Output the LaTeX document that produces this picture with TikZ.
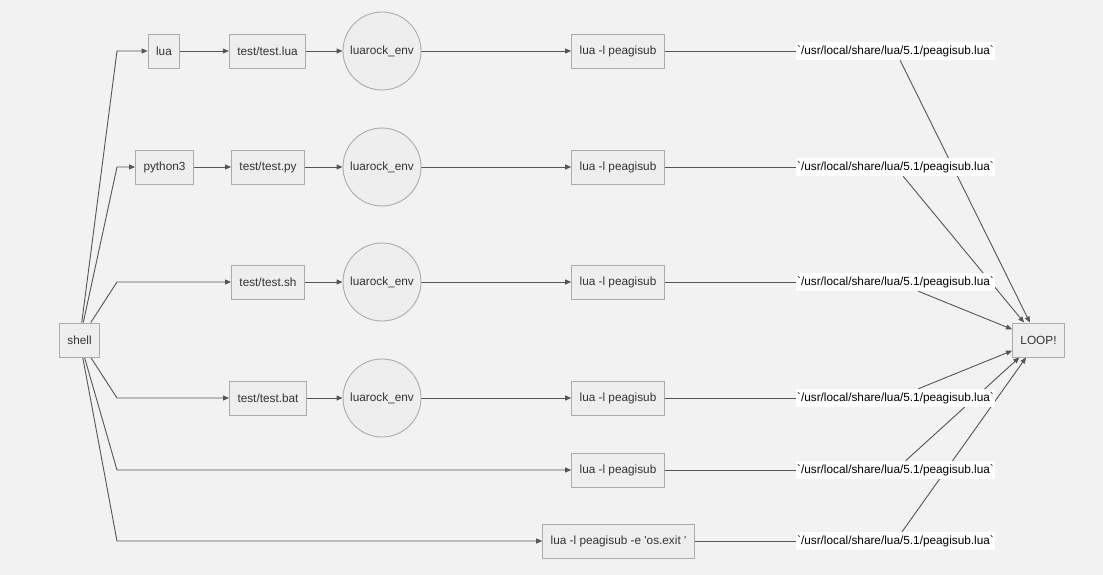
\documentclass[tikz,border=0pt]{standalone}
\usepackage{fontspec}
\setmainfont{Liberation Sans}
\usetikzlibrary{arrows.meta,positioning,calc}

\definecolor{canvas}{HTML}{F2F2F2}
\definecolor{boxfill}{HTML}{EEEEEE}
\definecolor{boxline}{HTML}{ABABAB}
\definecolor{edgecol}{HTML}{555555}
\definecolor{txtcol}{HTML}{333333}

\pgfdeclarelayer{canvaslayer}
\pgfdeclarelayer{edgelayer}
\pgfsetlayers{canvaslayer,edgelayer,main}

\newcommand{\pathtext}{\textasciigrave/usr/local/share/lua/5.1/peagisub.lua\textasciigrave}

\tikzset{
	labelfont/.style={font=\fontsize{11.8}{14}\selectfont},
	box/.style={labelfont, draw=boxline, fill=boxfill, line width=0.9pt, minimum height=34pt, inner xsep=8pt, text=txtcol},
	env/.style={labelfont, circle, draw=boxline, fill=boxfill, line width=0.9pt, minimum size=78pt, inner sep=0pt, text=txtcol},
	pathlabel/.style={labelfont, fill=white, inner xsep=1pt, inner ysep=3.5pt, text=black},
	plain/.style={draw=edgecol, line width=0.9pt},
	link/.style={plain, -{Triangle[length=6pt,width=5pt]}},
}

\begin{document}
\begin{tikzpicture}[x=1pt, y=-1pt]
		\begin{pgfonlayer}{canvaslayer}
			\fill[canvas] (0,0) rectangle (1103,575);
		\end{pgfonlayer}
		\useasboundingbox (0,0) rectangle (1103,575);

		\node[box] (shell) at (79.5,340) {shell};
		\node[box] (loop) at (1038.5,340) {LOOP!};
		\coordinate (bend) at (117,340);

		\node[box] (lua) at (164,51) {lua};
		\node[box] (python) at (164.5,167) {python3};
		\node[box] (testlua) at (267.5,51) {test/test.lua};
		\node[box] (testpy) at (268,167) {test/test.py};
		\node[box] (testsh) at (268,282) {test/test.sh};
		\node[box] (testbat) at (268,398) {test/test.bat};

		\foreach \i/\y in {1/51,2/167,3/282,4/398,5/470} {
			\node[box] (peag\i) at (618,\y) {lua -l peagisub};
		}
		\node[box] (peag6) at (618.5,541) {lua -l peagisub -e \textquotesingle os.exit \textquotesingle};

		\foreach \i/\y in {1/51,2/167,3/282,4/398} {
			\node[env] (env\i) at (382,\y) {luarock\_env};
		}
		\foreach \i/\y in {1/51,2/167,3/282,4/398,5/470,6/541} {
			\node[pathlabel] (path\i) at (895.5,\y) {\pathtext};
		}

		\begin{pgfonlayer}{edgelayer}
			% out of the shell
			\draw[link] (shell) -- (bend |- lua) -- (lua);
			\draw[link] (shell) -- (bend |- python) -- (python);
			\draw[link] (shell) -- (bend |- testsh) -- (testsh);
			\draw[link] (shell) -- (bend |- testbat) -- (testbat);
			\draw[link] (shell) -- (bend |- peag5) -- (peag5);
			\draw[link] (shell) -- (bend |- peag6) -- (peag6);

			\draw[link] (lua) -- (testlua);
			\draw[link] (python) -- (testpy);
			\draw[link] (testlua) -- (env1);
			\draw[link] (testpy) -- (env2);
			\draw[link] (testsh) -- (env3);
			\draw[link] (testbat) -- (env4);

			\foreach \i in {1,...,4} {
				\draw[link] (env\i) -- (peag\i);
			}
			\foreach \i in {1,...,6} {
				\draw[plain] (peag\i) -- (path\i);
				\draw[link] (path\i) -- (loop);
			}
		\end{pgfonlayer}
\end{tikzpicture}
\end{document}
